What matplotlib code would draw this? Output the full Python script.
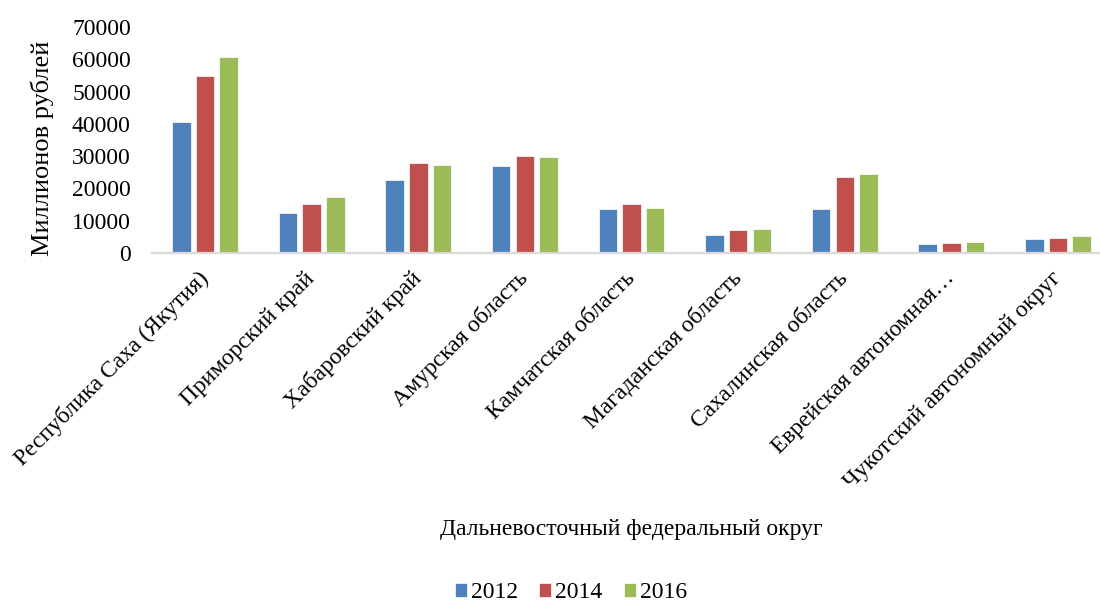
import numpy as np
import matplotlib
matplotlib.use('Agg')
import matplotlib.pyplot as plt

# Data (millions of rubles)
regions = ['Республика Саха (Якутия)', 'Приморский край', 'Хабаровский край',
           'Амурская область', 'Камчатская область', 'Магаданская область',
           'Сахалинская область', 'Еврейская автономная…', 'Чукотский автономный округ']
years = ['2012', '2014', '2016']
values_2012 = [40500, 12300, 22600, 26800, 13600, 5700, 13600, 2800, 4400]
values_2014 = [54900, 15100, 28000, 30200, 15100, 7100, 23400, 3200, 4700]
values_2016 = [60700, 17300, 27200, 29600, 13800, 7300, 24500, 3300, 5300]

colors = ['#4F81BD', '#C0504D', '#9BBB59']

plt.rcParams['font.family'] = ['Liberation Serif', 'DejaVu Serif']
fs = 17

fig = plt.figure(figsize=(11, 6.03), dpi=100)
ax = fig.add_axes([0.1379, 0.5804, 0.8724, 0.3748])

x = np.arange(len(regions))
bar_w = 0.1735
step = 0.222
handles = []
for i, (vals, year) in enumerate(zip([values_2012, values_2014, values_2016], years)):
    b = ax.bar(x + (i - 1) * step, vals, width=bar_w, color=colors[i],
               edgecolor='white', linewidth=0.5, label=year, zorder=2)
    handles.append(b)

ax.set_xlim(-0.5, len(regions) - 0.5)
ax.set_ylim(0, 70000)
ax.set_yticks(np.arange(0, 70001, 10000))
ax.tick_params(axis='y', length=0, pad=15, labelsize=fs)
ax.tick_params(axis='x', length=0, pad=16)
ax.set_xticks(x)
ax.set_xticklabels(regions, rotation=45, ha='right', va='center',
                   rotation_mode='anchor', fontsize=fs)

for s in ['top', 'right', 'left']:
    ax.spines[s].set_visible(False)
ax.spines['bottom'].set_color('#D9D9D9')
ax.spines['bottom'].set_linewidth(1.6)

fig.text(42 / 1100, 1 - 148 / 603, 'Миллионов рублей', rotation=90,
         ha='center', va='center', fontsize=19)
fig.text(631 / 1100, 1 - 530 / 603, 'Дальневосточный федеральный округ',
         ha='center', va='center', fontsize=fs)

fig.legend(handles=handles, labels=years, loc='center', ncol=3,
           bbox_to_anchor=(571 / 1100, 1 - 593 / 603), frameon=False,
           fontsize=fs, handlelength=0.51, handleheight=0.51,
           handletextpad=0.17, columnspacing=0.9)

fig.savefig('out.png', dpi=100)
